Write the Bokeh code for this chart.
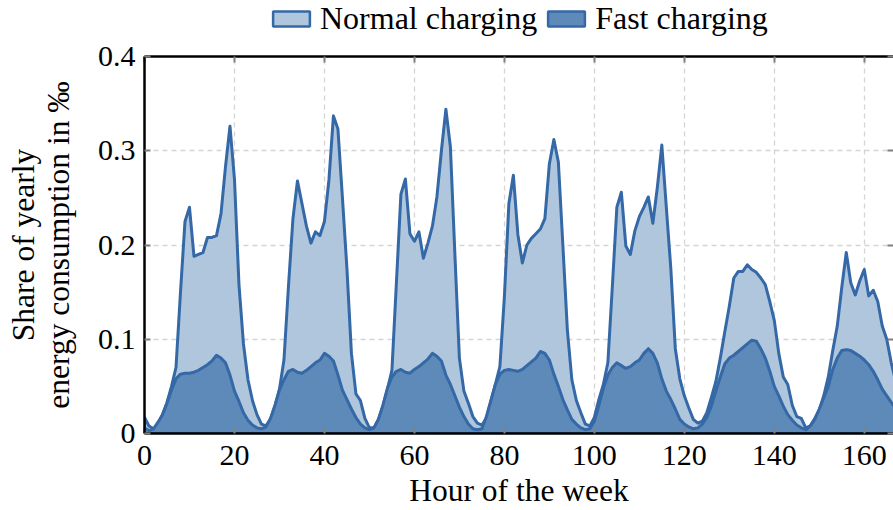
from bokeh.plotting import figure
from bokeh.models import Range1d, FixedTicker, LinearAxis, Legend, LegendItem
from bokeh.layouts import column
from bokeh.embed import file_html
from bokeh.resources import INLINE

hours = list(range(168))

normal = [
    0.017, 0.008, 0.005, 0.010, 0.020, 0.033, 0.050, 0.070, 0.150, 0.225, 0.240, 0.188,
    0.190, 0.192, 0.208, 0.208, 0.210, 0.233, 0.283, 0.326, 0.270, 0.158, 0.095, 0.057,
    0.035, 0.020, 0.010, 0.008, 0.015, 0.029, 0.047, 0.078, 0.156, 0.228, 0.268, 0.244,
    0.220, 0.202, 0.214, 0.210, 0.225, 0.269, 0.337, 0.323, 0.250, 0.175, 0.085, 0.042,
    0.035, 0.016, 0.006, 0.006, 0.015, 0.029, 0.047, 0.067, 0.160, 0.254, 0.270, 0.212,
    0.204, 0.214, 0.186, 0.202, 0.220, 0.251, 0.300, 0.344, 0.304, 0.190, 0.080, 0.045,
    0.032, 0.018, 0.011, 0.009, 0.016, 0.034, 0.052, 0.071, 0.145, 0.244, 0.274, 0.211,
    0.181, 0.200, 0.207, 0.212, 0.217, 0.228, 0.286, 0.312, 0.288, 0.200, 0.110, 0.057,
    0.035, 0.022, 0.010, 0.008, 0.017, 0.036, 0.052, 0.075, 0.156, 0.240, 0.256, 0.199,
    0.190, 0.215, 0.230, 0.240, 0.251, 0.223, 0.261, 0.306, 0.240, 0.175, 0.090, 0.058,
    0.040, 0.027, 0.015, 0.011, 0.013, 0.022, 0.038, 0.055, 0.080, 0.108, 0.135, 0.165,
    0.172, 0.172, 0.179, 0.174, 0.171, 0.165, 0.158, 0.140, 0.120, 0.085, 0.060, 0.052,
    0.030, 0.018, 0.016, 0.006, 0.008, 0.016, 0.025, 0.040, 0.060, 0.088, 0.114, 0.155,
    0.192, 0.160, 0.147, 0.162, 0.174, 0.146, 0.152, 0.140, 0.114, 0.100, 0.075, 0.055,
]

fast = [
    0.006, 0.003, 0.005, 0.012, 0.020, 0.032, 0.046, 0.058, 0.063, 0.064, 0.064, 0.065,
    0.067, 0.070, 0.073, 0.077, 0.083, 0.080, 0.075, 0.062, 0.045, 0.034, 0.022, 0.014,
    0.009, 0.006, 0.005, 0.007, 0.016, 0.030, 0.046, 0.057, 0.066, 0.068, 0.065, 0.064,
    0.067, 0.071, 0.075, 0.078, 0.085, 0.082, 0.077, 0.062, 0.046, 0.036, 0.026, 0.017,
    0.010, 0.006, 0.004, 0.006, 0.015, 0.030, 0.048, 0.060, 0.066, 0.068, 0.065, 0.064,
    0.068, 0.071, 0.075, 0.079, 0.085, 0.082, 0.077, 0.062, 0.052, 0.040, 0.028, 0.018,
    0.010, 0.005, 0.004, 0.005, 0.018, 0.035, 0.052, 0.063, 0.067, 0.068, 0.067, 0.066,
    0.068, 0.072, 0.076, 0.080, 0.087, 0.085, 0.078, 0.063, 0.050, 0.036, 0.025, 0.015,
    0.010, 0.006, 0.004, 0.005, 0.013, 0.030, 0.048, 0.062, 0.070, 0.075, 0.072, 0.069,
    0.071, 0.075, 0.078, 0.085, 0.090, 0.085, 0.075, 0.058, 0.045, 0.036, 0.026, 0.015,
    0.010, 0.007, 0.005, 0.006, 0.010, 0.017, 0.029, 0.045, 0.060, 0.074, 0.080, 0.083,
    0.087, 0.091, 0.095, 0.099, 0.098, 0.090, 0.080, 0.066, 0.050, 0.040, 0.029, 0.020,
    0.014, 0.009, 0.006, 0.004, 0.008, 0.015, 0.026, 0.038, 0.050, 0.068, 0.080, 0.088,
    0.089, 0.088, 0.085, 0.082, 0.078, 0.073, 0.066, 0.057, 0.047, 0.040, 0.033, 0.027,
]

series_names = ["Normal charging", "Fast charging"]
x_ticks = [0, 20, 40, 60, 80, 100, 120, 140, 160]
y_ticks = [0, 0.1, 0.2, 0.3, 0.4]
y_tick_labels = ["0", "0.1", "0.2", "0.3", "0.4"]

LINE = "#3468a6"
LIGHT = "#afc6dd"
DARK = "#5d8ab8"
FONT = "Liberation Serif"
FS = "30px"
FS_LABEL = "31.5px"

LEG_H = 40

# ---------------- main chart ----------------
p = figure(width=893, height=510 - LEG_H, output_backend="svg", toolbar_location=None,
           x_range=Range1d(0, 166.5), y_range=Range1d(0, 0.4),
           min_border_left=144, min_border_right=0, min_border_top=16, min_border_bottom=76)
p.outline_line_color = None
p.background_fill_color = "white"

px = hours + [hours[-1], hours[0]]
p.patch(px, normal + [0, 0], fill_color=LIGHT, line_color=LINE, line_width=3, line_join="round")
p.patch(px, fast + [0, 0], fill_color=DARK, line_color=LINE, line_width=3, line_join="round")

p.xgrid.ticker = FixedTicker(ticks=x_ticks)
p.ygrid.ticker = FixedTicker(ticks=y_ticks)
for g in (p.xgrid, p.ygrid):
    g.grid_line_color = "#d4d4d4"
    g.grid_line_dash = "5 4"
    g.grid_line_width = 1.3

def style_axis(ax, ticks):
    ax.ticker = FixedTicker(ticks=ticks)
    ax.axis_line_color = "black"
    ax.axis_line_width = 2.5
    ax.major_tick_line_color = "#808080"
    ax.major_tick_line_width = 2
    ax.major_tick_in = 6
    ax.major_tick_out = 0
    ax.minor_tick_line_color = None
    ax.major_label_text_font = FONT
    ax.major_label_text_font_size = FS
    ax.major_label_text_color = "black"
    ax.axis_label_text_font = FONT
    ax.axis_label_text_font_size = FS_LABEL
    ax.axis_label_text_font_style = "normal"
    ax.axis_label_text_color = "black"

xa = p.xaxis[0]
style_axis(xa, x_ticks)
xa.major_label_standoff = 12
xa.axis_label = "Hour of the week"
xa.axis_label_standoff = 5

ya = p.yaxis[0]
style_axis(ya, y_ticks)
ya.major_label_overrides = {t: s for t, s in zip(y_ticks, y_tick_labels)}
ya.major_label_standoff = 9
ya.axis_label = "energy consumption in ‰"
ya.axis_label_standoff = 19

ya2 = LinearAxis(axis_label="Share of yearly")
style_axis(ya2, [])
ya2.axis_line_color = None
ya2.axis_label_standoff = -3
p.add_layout(ya2, "left")

ra = LinearAxis()
style_axis(ra, y_ticks)
ra.axis_line_color = None
ra.major_label_text_font_size = "0px"
ra.major_label_standoff = 0
p.add_layout(ra, "right")

ta = LinearAxis()
style_axis(ta, x_ticks)
ta.major_label_text_font_size = "0px"
ta.major_label_standoff = 0
p.add_layout(ta, "above")

# ---------------- legend strip ----------------
lf = figure(width=893, height=LEG_H, output_backend="svg", toolbar_location=None,
            x_range=Range1d(-3, -2), y_range=Range1d(-3, -2),
            x_axis_type=None, y_axis_type=None, min_border=0)
lf.outline_line_color = None
lf.grid.visible = False
l_norm = lf.patch(px, normal + [0, 0], fill_color=LIGHT, line_color=LINE, line_width=2.5)
l_fast = lf.patch(px, fast + [0, 0], fill_color=DARK, line_color=LINE, line_width=2.5)

legend = Legend(items=[LegendItem(label=series_names[0], renderers=[l_norm]),
                       LegendItem(label=series_names[1], renderers=[l_fast])],
                orientation="horizontal", location=(124, 3),
                glyph_width=46, glyph_height=19, label_standoff=6, spacing=6,
                padding=0, margin=0, label_height=28,
                label_text_font=FONT, label_text_font_size="32px", label_text_color="black",
                background_fill_alpha=0, border_line_alpha=0)
lf.add_layout(legend, "center")

layout = column(lf, p, spacing=0)
open("out.html", "w").write(file_html(layout, INLINE))
